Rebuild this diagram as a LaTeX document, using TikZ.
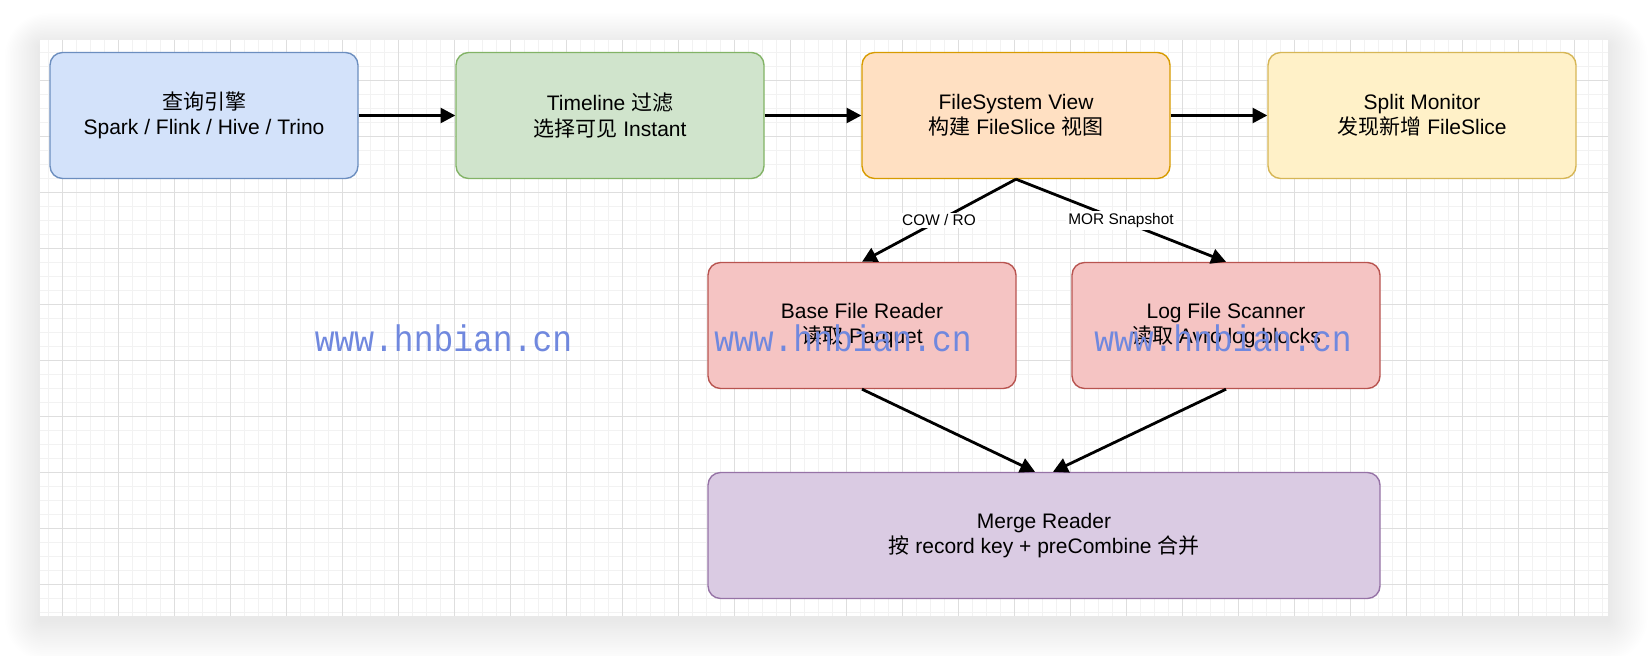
\documentclass[tikz,border=0pt]{standalone}
\usepackage{fontspec}
\setmainfont{Liberation Sans}
\newfontfamily\cjk{Noto Sans CJK SC}
\newfontfamily\wmfont{Liberation Mono}
\usetikzlibrary{arrows.meta}
\definecolor{blueFill}{RGB}{211,226,250}
\definecolor{blueLine}{RGB}{108,142,191}
\definecolor{greenFill}{RGB}{208,228,204}
\definecolor{greenLine}{RGB}{130,179,102}
\definecolor{orangeFill}{RGB}{255,224,194}
\definecolor{orangeLine}{RGB}{215,155,0}
\definecolor{yellowFill}{RGB}{255,241,200}
\definecolor{yellowLine}{RGB}{214,182,86}
\definecolor{redFill}{RGB}{245,196,195}
\definecolor{redLine}{RGB}{184,84,80}
\definecolor{purpleFill}{RGB}{218,203,227}
\definecolor{purpleLine}{RGB}{150,115,166}
\definecolor{wmBlue}{RGB}{112,136,222}
\begin{document}
\begin{tikzpicture}[x=0.5pt, y=-0.5pt,
  stage/.style={draw, line width=0.7pt, rounded corners=6.3pt, minimum width=154pt,
    minimum height=63pt, align=center, font=\fontsize{10.5}{12.6}\selectfont},
  flow/.style={line width=1.4pt, -{Triangle[length=7.4pt,width=7.5pt]}},
  edgelabel/.style={fill=white, inner sep=1pt, font=\fontsize{7.7}{9}\selectfont},
  watermark/.style={font=\wmfont\fontsize{16.5}{18}\selectfont, text=wmBlue,
    anchor=base, yscale=1.12, transform shape}]
\useasboundingbox (0,0) rectangle (1648,656);
\fill[white] (0,0) rectangle (1648,656);
% page shadow and grid
\foreach \s in {1,...,22}
  \fill[black,opacity=0.0045,rounded corners=\s pt] ({40-1.6*\s},{46-1.5*\s}) rectangle ({1608+1.8*\s},{620+1.9*\s});
\fill[white] (40,40) rectangle (1608,616);
\foreach \i in {3,...,114}
  \draw[black!5,line width=0.5pt] ({6.3+14*\i},40) -- ({6.3+14*\i},616);
\foreach \j in {3,...,43}
  \draw[black!5,line width=0.5pt] (40,{10.3+14*\j}) -- (1608,{10.3+14*\j});
\foreach \i in {0,...,27}
  \draw[black!13,line width=0.5pt] ({62.3+56*\i},40) -- ({62.3+56*\i},616);
\foreach \j in {1,...,10}
  \draw[black!13,line width=0.5pt] (40,{24.3+56*\j}) -- (1608,{24.3+56*\j});
% top row
\node[stage,fill=blueFill,draw=blueLine] (engine) at (204,115.5) {{\cjk 查询引擎}\\Spark / Flink / Hive / Trino};
\node[stage,fill=greenFill,draw=greenLine] (timeline) at (610,115.5) {Timeline {\cjk 过滤}\\{\cjk 选择可见} Instant};
\node[stage,fill=orangeFill,draw=orangeLine] (fsview) at (1016,115.5) {FileSystem View\\{\cjk 构建} FileSlice {\cjk 视图}};
\node[stage,fill=yellowFill,draw=yellowLine] (monitor) at (1422,115.5) {Split Monitor\\{\cjk 发现新增} FileSlice};
% readers
\node[stage,fill=redFill,draw=redLine] (basereader) at (862,325.5) {Base File Reader\\{\cjk 读取} Parquet};
\node[stage,fill=redFill,draw=redLine] (logscanner) at (1226,325.5) {Log File Scanner\\{\cjk 读取} Avro log blocks};
\node[stage,fill=purpleFill,draw=purpleLine,minimum width=336pt] (merge) at (1044,535.5) {Merge Reader\\{\cjk 按} record key + preCombine {\cjk 合并}};
% connectors
\draw[flow] (engine) -- (timeline);
\draw[flow] (timeline) -- (fsview);
\draw[flow] (fsview) -- (monitor);
\draw[flow] (fsview.south) -- node[edgelabel] {COW / RO} (basereader.north);
\draw[flow] (fsview.south) -- node[edgelabel] {MOR Snapshot} (logscanner.north);
\draw[flow] (basereader.south) -- ([xshift=-4.5pt]merge.north);
\draw[flow] (logscanner.south) -- ([xshift=4.5pt]merge.north);
% watermark
\node[watermark] (wm1) at (443.5,351.5) {www.hnbian.cn};
\node[watermark] (wm2) at (843,351.5) {www.hnbian.cn};
\node[watermark] (wm3) at (1223,351.5) {www.hnbian.cn};
\end{tikzpicture}
\end{document}
